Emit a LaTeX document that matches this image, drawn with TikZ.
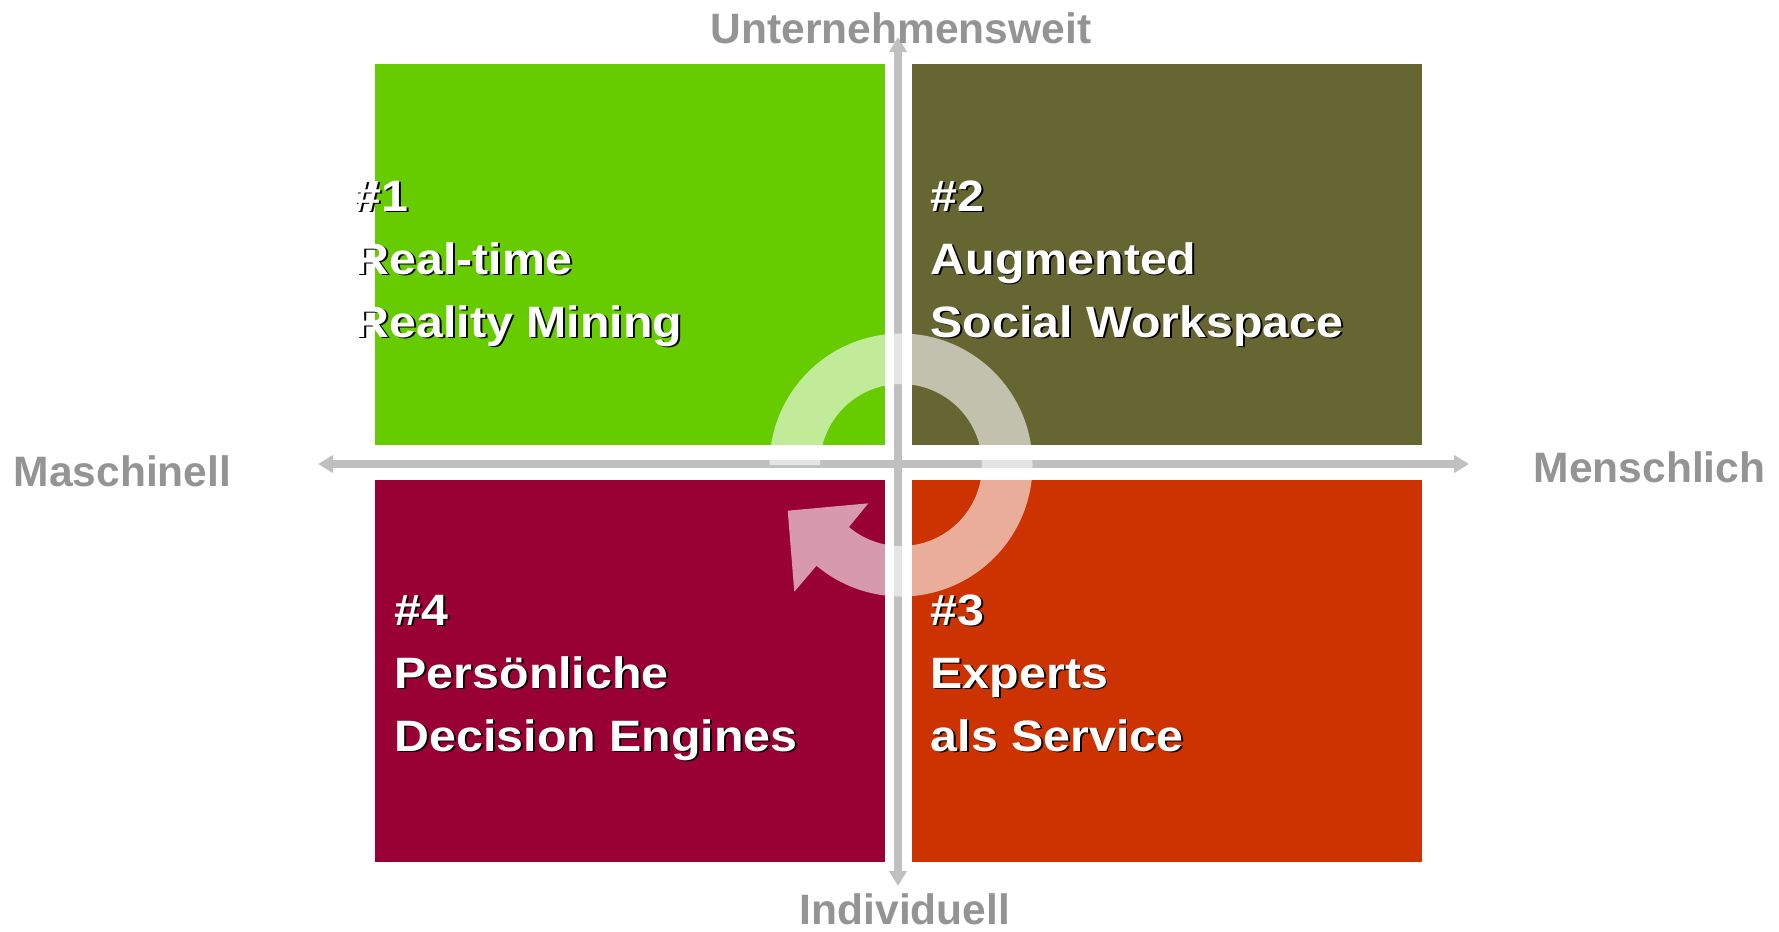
\documentclass[tikz,border=0pt]{standalone}
\usepackage{fontspec}
\setmainfont{Liberation Sans}
\newfontfamily\quadfont{Liberation Sans}[FakeStretch=1.1]
\usetikzlibrary{
    arrows.meta,
    positioning,
    calc
}
\definecolor{quadgreen}{HTML}{66CC00}
\definecolor{quadolive}{HTML}{666633}
\definecolor{quadred}{HTML}{CC3300}
\definecolor{quadwine}{HTML}{990033}
\definecolor{axisgray}{HTML}{C0C0C0}
\definecolor{labelgray}{HTML}{949494}
\tikzset{%
    >={Triangle[width=1.7mm,length=1.5mm]},
    % Specifications for style of nodes:
    quad/.style = {
        rectangle, draw=none, inner sep=0pt,
        minimum width=5.1cm, minimum height=3.815cm
    },
    axislabel/.style = {
        inner sep=0pt, text=labelgray,
        font=\fontsize{12.1}{14}\selectfont\bfseries
    },
    quadtext/.style = {
        inner sep=0pt, anchor=base west, align=left,
        font=\quadfont\fontsize{12.5}{17.92}\selectfont\bfseries
    },
    axis/.style = {draw=axisgray, line width=0.08cm},
    ring/.style = {fill=white, fill opacity=0.6}
}

\begin{document}
\begin{tikzpicture}[node distance=0.26cm and 0.26cm]
    \useasboundingbox (0,0) rectangle (17.79,9.31);
    \fill[white] (0,0) rectangle (17.79,9.31);
    % quadrants
    \node[quad, fill=quadgreen, anchor=north west] (q1) at (3.74,8.68) {};
    \node[quad, fill=quadolive, right=0.26cm of q1] (q2) {};
    \node[quad, fill=quadwine, below=0.335cm of q1] (q4) {};
    \node[quad, fill=quadred, below=0.335cm of q2] (q3) {};
    % axes
    \coordinate (west) at (3.18,4.67);
    \coordinate (east) at (14.69,4.67);
    \coordinate (north) at (8.98,8.94);
    \coordinate (south) at (8.98,0.45);
    \draw[axis, <->] (west) -- (east);
    \draw[axis, <->] (south) -- (north);
    % cycle arrow
    \coordinate (c) at (9.01,4.66);
    \fill[ring] ($(c)+(180:1.315)$) arc[start angle=180, end angle=-130, radius=1.315]
        -- ($(c)+(-1.067,-1.267)$) -- ($(c)+(-1.133,-0.457)$) -- ($(c)+(-0.327,-0.383)$)
        -- ($(c)+(-130:0.81)$) arc[start angle=-130, end angle=180, radius=0.81] -- cycle;
    % axis labels
    \node[axislabel, anchor=base] (top) at (9.01,8.88) {Unternehmensweit};
    \node[axislabel, anchor=base] (bottom) at (9.05,0.07) {Individuell};
    \node[axislabel, anchor=base west] (left) at (0.13,4.45) {Maschinell};
    \node[axislabel, anchor=base west] (right) at (15.33,4.49) {Menschlich};
    % quadrant texts, shadow first (base = last line)
    \foreach \col/\dx in {black/0.018, white/0} {
        \node[quadtext, text=\col] (t1-\col) at (3.54+\dx,5.94-\dx) {\#1\\Real-time\\Reality Mining};
        \node[quadtext, text=\col] (t2-\col) at (9.30+\dx,5.94-\dx) {\#2\\Augmented\\Social Workspace};
        \node[quadtext, text=\col] (t3-\col) at (9.30+\dx,1.80-\dx) {\#3\\Experts\\als Service};
        \node[quadtext, text=\col] (t4-\col) at (3.94+\dx,1.80-\dx) {\#4\\Persönliche\\Decision Engines};
    }
\end{tikzpicture}
\end{document}
